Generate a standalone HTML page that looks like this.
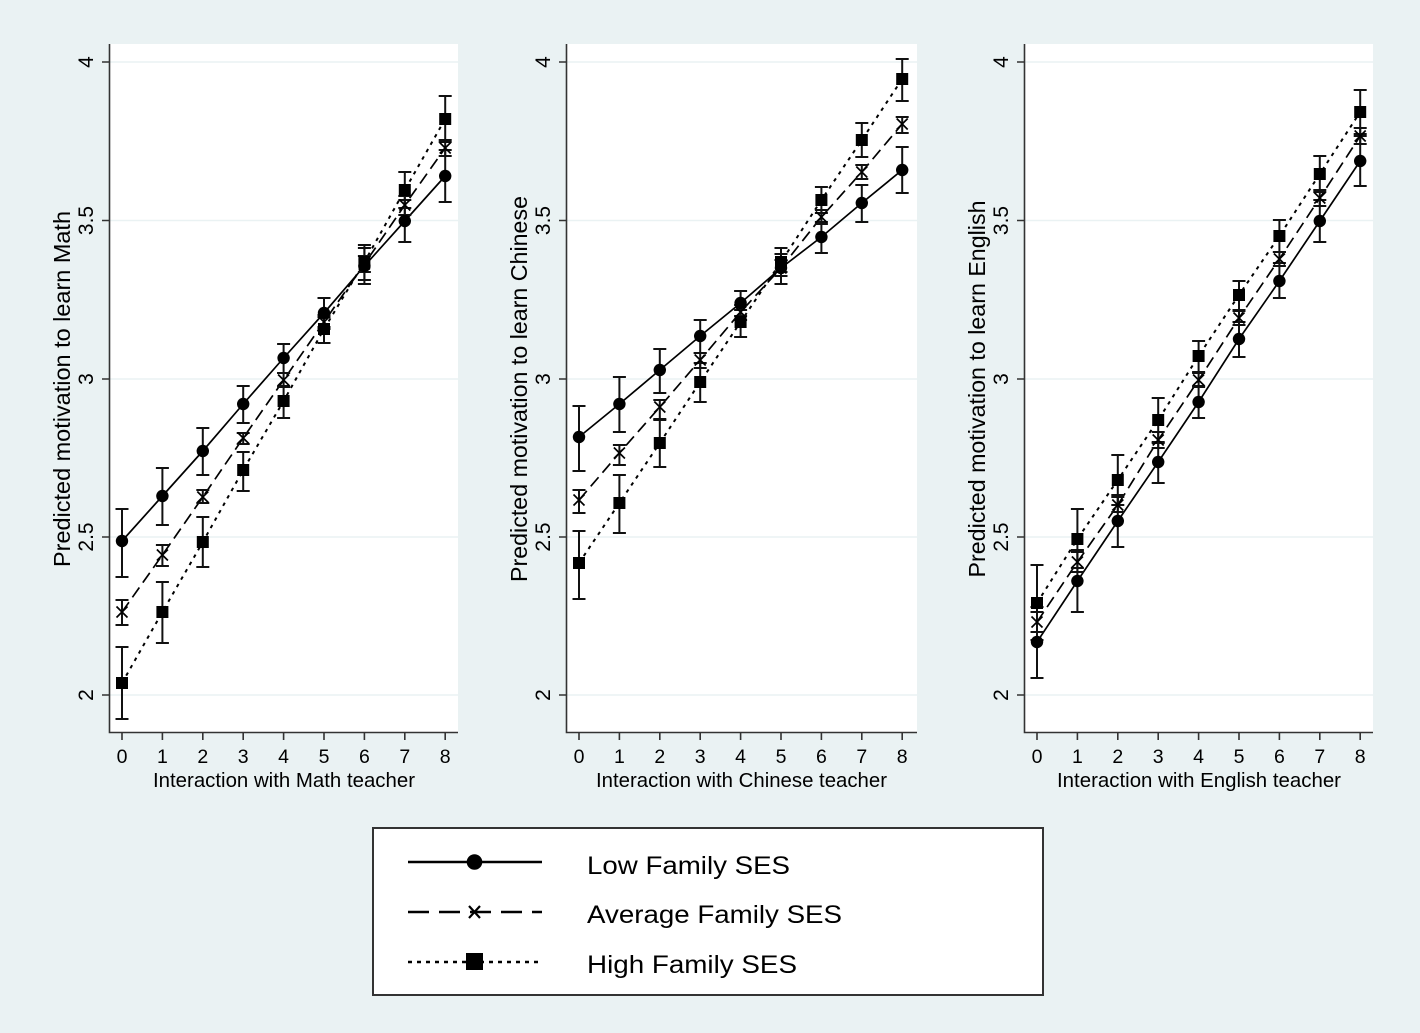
<!DOCTYPE html>
<html>
<head>
<meta charset="utf-8">
<style>
  html,body{margin:0;padding:0;background:#eaf2f3;}
  svg{display:block;}
  text{font-family:"Liberation Sans",Arial,Helvetica,sans-serif;fill:#000;}
</style>
</head>
<body>
<svg width="1420" height="1033" viewBox="0 0 1420 1033" xmlns="http://www.w3.org/2000/svg">
  <defs>
    <circle id="mc" cx="0" cy="0" r="6.2" fill="#000"/>
    <rect id="ms" x="-6" y="-6" width="12" height="12" fill="#000"/>
    <path id="mx" d="M-5.5,-5.5 L5.5,5.5 M-5.5,5.5 L5.5,-5.5" stroke="#000" stroke-width="1.7" fill="none"/>
  </defs>
  <rect x="0" y="0" width="1420" height="1033" fill="#eaf2f3"/>

  <!-- ================= PANEL 1 : MATH ================= -->
  <rect x="109" y="44" width="349" height="688" fill="#fff"/>
  <g stroke="#eaf2f3" stroke-width="1.6">
    <line x1="110" y1="62" x2="458" y2="62"/>
    <line x1="110" y1="220.5" x2="458" y2="220.5"/>
    <line x1="110" y1="379" x2="458" y2="379"/>
    <line x1="110" y1="537" x2="458" y2="537"/>
    <line x1="110" y1="695" x2="458" y2="695"/>
  </g>
  <g stroke="#333" stroke-width="1.6" fill="none">
    <path d="M109.5,44 V732.5 H458"/>
    <path d="M102,62 H109 M102,220.5 H109 M102,379 H109 M102,537 H109 M102,695 H109"/>
    <path d="M122,732 V740 M162.4,732 V740 M202.8,732 V740 M243.2,732 V740 M283.6,732 V740 M324,732 V740 M364.4,732 V740 M404.8,732 V740 M445.2,732 V740"/>
  </g>
  <g font-size="21" text-anchor="middle">
    <text transform="translate(93,62) rotate(-90)">4</text>
    <text transform="translate(93,220.5) rotate(-90)">3.5</text>
    <text transform="translate(93,379) rotate(-90)">3</text>
    <text transform="translate(93,537) rotate(-90)">2.5</text>
    <text transform="translate(93,695) rotate(-90)">2</text>
  </g>
  <g font-size="19.5" text-anchor="middle">
    <text x="122" y="763">0</text><text x="162.4" y="763">1</text><text x="202.8" y="763">2</text>
    <text x="243.2" y="763">3</text><text x="283.6" y="763">4</text><text x="324" y="763">5</text>
    <text x="364.4" y="763">6</text><text x="404.8" y="763">7</text><text x="445.2" y="763">8</text>
  </g>
  <text transform="translate(70,389) rotate(-90)" font-size="23" text-anchor="middle" textLength="356" lengthAdjust="spacingAndGlyphs">Predicted motivation to learn Math</text>
  <text x="284" y="787" font-size="20.5" text-anchor="middle" textLength="262" lengthAdjust="spacingAndGlyphs">Interaction with Math teacher</text>

  <g fill="none" stroke="#000" stroke-width="1.7">
    <polyline points="122,541 162.4,496 202.8,451 243.2,404 283.6,358 324,313 364.4,266 404.8,221 445.2,176"/>
    <polyline stroke-dasharray="12 6" points="122,612 162.4,555 202.8,497 243.2,438 283.6,380 324,322 364.4,264 404.8,205 445.2,148"/>
    <polyline stroke-dasharray="3.5 5" stroke-width="2" points="122,683 162.4,612 202.8,542 243.2,470 283.6,401 324,329 364.4,262 404.8,190 445.2,119"/>
  </g>
  <g fill="none" stroke="#111" stroke-width="2">
    <path d="M122,509V577M115.5,509H128.5M115.5,577H128.5 M162.4,468V525M155.9,468H168.9M155.9,525H168.9 M202.8,428V475M196.3,428H209.3M196.3,475H209.3 M243.2,386V423M236.7,386H249.7M236.7,423H249.7 M283.6,344V373M277.1,344H290.1M277.1,373H290.1 M324,298V327M317.5,298H330.5M317.5,327H330.5 M364.4,248V284M357.9,248H370.9M357.9,284H370.9 M404.8,200V242M398.3,200H411.3M398.3,242H411.3 M445.2,150V202M438.7,150H451.7M438.7,202H451.7"/>
    <path d="M122,600V625M115.5,600H128.5M115.5,625H128.5 M162.4,545V566M155.9,545H168.9M155.9,566H168.9 M202.8,490V503M196.3,490H209.3M196.3,503H209.3 M243.2,433V444M236.7,433H249.7M236.7,444H249.7 M283.6,373V387M277.1,373H290.1M277.1,387H290.1 M324,315V329M317.5,315H330.5M317.5,329H330.5 M364.4,256V272M357.9,256H370.9M357.9,272H370.9 M404.8,196V215M398.3,196H411.3M398.3,215H411.3 M445.2,140V156M438.7,140H451.7M438.7,156H451.7"/>
    <path d="M122,647V719M115.5,647H128.5M115.5,719H128.5 M162.4,582V643M155.9,582H168.9M155.9,643H168.9 M202.8,517V567M196.3,517H209.3M196.3,567H209.3 M243.2,452V491M236.7,452H249.7M236.7,491H249.7 M283.6,386V418M277.1,386H290.1M277.1,418H290.1 M324,317V343M317.5,317H330.5M317.5,343H330.5 M364.4,245V280M357.9,245H370.9M357.9,280H370.9 M404.8,172V208M398.3,172H411.3M398.3,208H411.3 M445.2,96V142M438.7,96H451.7M438.7,142H451.7"/>
  </g>
  <g>
    <use href="#mc" x="122" y="541"/><use href="#mc" x="162.4" y="496"/><use href="#mc" x="202.8" y="451"/><use href="#mc" x="243.2" y="404"/><use href="#mc" x="283.6" y="358"/><use href="#mc" x="324" y="313"/><use href="#mc" x="364.4" y="266"/><use href="#mc" x="404.8" y="221"/><use href="#mc" x="445.2" y="176"/>
    <use href="#mx" x="122" y="612"/><use href="#mx" x="162.4" y="555"/><use href="#mx" x="202.8" y="497"/><use href="#mx" x="243.2" y="438"/><use href="#mx" x="283.6" y="380"/><use href="#mx" x="324" y="322"/><use href="#mx" x="364.4" y="264"/><use href="#mx" x="404.8" y="205"/><use href="#mx" x="445.2" y="148"/>
    <use href="#ms" x="122" y="683"/><use href="#ms" x="162.4" y="612"/><use href="#ms" x="202.8" y="542"/><use href="#ms" x="243.2" y="470"/><use href="#ms" x="283.6" y="401"/><use href="#ms" x="324" y="329"/><use href="#ms" x="364.4" y="262"/><use href="#ms" x="404.8" y="190"/><use href="#ms" x="445.2" y="119"/>
  </g>

  <!-- ================= PANEL 2 : CHINESE ================= -->
  <rect x="566" y="44" width="351" height="688" fill="#fff"/>
  <g stroke="#eaf2f3" stroke-width="1.6">
    <line x1="567" y1="62" x2="917" y2="62"/>
    <line x1="567" y1="220.5" x2="917" y2="220.5"/>
    <line x1="567" y1="379" x2="917" y2="379"/>
    <line x1="567" y1="537" x2="917" y2="537"/>
    <line x1="567" y1="695" x2="917" y2="695"/>
  </g>
  <g stroke="#333" stroke-width="1.6" fill="none">
    <path d="M566.5,44 V732.5 H917"/>
    <path d="M559,62 H566 M559,220.5 H566 M559,379 H566 M559,537 H566 M559,695 H566"/>
    <path d="M579,732 V740 M619.4,732 V740 M659.8,732 V740 M700.2,732 V740 M740.6,732 V740 M781,732 V740 M821.4,732 V740 M861.8,732 V740 M902.2,732 V740"/>
  </g>
  <g font-size="21" text-anchor="middle">
    <text transform="translate(550,62) rotate(-90)">4</text>
    <text transform="translate(550,220.5) rotate(-90)">3.5</text>
    <text transform="translate(550,379) rotate(-90)">3</text>
    <text transform="translate(550,537) rotate(-90)">2.5</text>
    <text transform="translate(550,695) rotate(-90)">2</text>
  </g>
  <g font-size="19.5" text-anchor="middle">
    <text x="579" y="763">0</text><text x="619.4" y="763">1</text><text x="659.8" y="763">2</text>
    <text x="700.2" y="763">3</text><text x="740.6" y="763">4</text><text x="781" y="763">5</text>
    <text x="821.4" y="763">6</text><text x="861.8" y="763">7</text><text x="902.2" y="763">8</text>
  </g>
  <text transform="translate(527,389) rotate(-90)" font-size="23" text-anchor="middle" textLength="386" lengthAdjust="spacingAndGlyphs">Predicted motivation to learn Chinese</text>
  <text x="741.5" y="787" font-size="20.5" text-anchor="middle" textLength="291" lengthAdjust="spacingAndGlyphs">Interaction with Chinese teacher</text>

  <g fill="none" stroke="#000" stroke-width="1.7">
    <polyline points="579,437 619.4,404 659.8,370 700.2,336 740.6,303 781,268 821.4,237 861.8,203 902.2,170"/>
    <polyline stroke-dasharray="12 6" points="579,500 619.4,453 659.8,407 700.2,360 740.6,312 781,268 821.4,217 861.8,172 902.2,124"/>
    <polyline stroke-dasharray="3.5 5" stroke-width="2" points="579,563 619.4,503 659.8,443 700.2,382 740.6,322 781,262 821.4,200 861.8,140 902.2,79"/>
  </g>
  <g fill="none" stroke="#111" stroke-width="2">
    <path d="M579,406V471M572.5,406H585.5M572.5,471H585.5 M619.4,377V432M612.9,377H625.9M612.9,432H625.9 M659.8,349V393M653.3,349H666.3M653.3,393H666.3 M700.2,320V353M693.7,320H706.7M693.7,353H706.7 M740.6,291V316M734.1,291H747.1M734.1,316H747.1 M781,254V284M774.5,254H787.5M774.5,284H787.5 M821.4,222V253M814.9,222H827.9M814.9,253H827.9 M861.8,185V222M855.3,185H868.3M855.3,222H868.3 M902.2,147V193M895.7,147H908.7M895.7,193H908.7"/>
    <path d="M579,490V513M572.5,490H585.5M572.5,513H585.5 M619.4,445V465M612.9,445H625.9M612.9,465H625.9 M659.8,400V419M653.3,400H666.3M653.3,419H666.3 M700.2,353V368M693.7,353H706.7M693.7,368H706.7 M740.6,305V320M734.1,305H747.1M734.1,320H747.1 M781,260V276M774.5,260H787.5M774.5,276H787.5 M821.4,210V224M814.9,210H827.9M814.9,224H827.9 M861.8,165V179M855.3,165H868.3M855.3,179H868.3 M902.2,117V133M895.7,117H908.7M895.7,133H908.7"/>
    <path d="M579,531V599M572.5,531H585.5M572.5,599H585.5 M619.4,475V533M612.9,475H625.9M612.9,533H625.9 M659.8,420V467M653.3,420H666.3M653.3,467H666.3 M700.2,363V402M693.7,363H706.7M693.7,402H706.7 M740.6,310V337M734.1,310H747.1M734.1,337H747.1 M781,248V272M774.5,248H787.5M774.5,272H787.5 M821.4,187V213M814.9,187H827.9M814.9,213H827.9 M861.8,123V157M855.3,123H868.3M855.3,157H868.3 M902.2,59V101M895.7,59H908.7M895.7,101H908.7"/>
  </g>
  <g>
    <use href="#mc" x="579" y="437"/><use href="#mc" x="619.4" y="404"/><use href="#mc" x="659.8" y="370"/><use href="#mc" x="700.2" y="336"/><use href="#mc" x="740.6" y="303"/><use href="#mc" x="781" y="268"/><use href="#mc" x="821.4" y="237"/><use href="#mc" x="861.8" y="203"/><use href="#mc" x="902.2" y="170"/>
    <use href="#mx" x="579" y="500"/><use href="#mx" x="619.4" y="453"/><use href="#mx" x="659.8" y="407"/><use href="#mx" x="700.2" y="360"/><use href="#mx" x="740.6" y="312"/><use href="#mx" x="781" y="268"/><use href="#mx" x="821.4" y="217"/><use href="#mx" x="861.8" y="172"/><use href="#mx" x="902.2" y="124"/>
    <use href="#ms" x="579" y="563"/><use href="#ms" x="619.4" y="503"/><use href="#ms" x="659.8" y="443"/><use href="#ms" x="700.2" y="382"/><use href="#ms" x="740.6" y="322"/><use href="#ms" x="781" y="262"/><use href="#ms" x="821.4" y="200"/><use href="#ms" x="861.8" y="140"/><use href="#ms" x="902.2" y="79"/>
  </g>

  <!-- ================= PANEL 3 : ENGLISH ================= -->
  <rect x="1024" y="44" width="349" height="688" fill="#fff"/>
  <g stroke="#eaf2f3" stroke-width="1.6">
    <line x1="1025" y1="62" x2="1373" y2="62"/>
    <line x1="1025" y1="220.5" x2="1373" y2="220.5"/>
    <line x1="1025" y1="379" x2="1373" y2="379"/>
    <line x1="1025" y1="537" x2="1373" y2="537"/>
    <line x1="1025" y1="695" x2="1373" y2="695"/>
  </g>
  <g stroke="#333" stroke-width="1.6" fill="none">
    <path d="M1024.5,44 V732.5 H1373"/>
    <path d="M1017,62 H1024 M1017,220.5 H1024 M1017,379 H1024 M1017,537 H1024 M1017,695 H1024"/>
    <path d="M1037,732 V740 M1077.4,732 V740 M1117.8,732 V740 M1158.2,732 V740 M1198.6,732 V740 M1239,732 V740 M1279.4,732 V740 M1319.8,732 V740 M1360.2,732 V740"/>
  </g>
  <g font-size="21" text-anchor="middle">
    <text transform="translate(1008,62) rotate(-90)">4</text>
    <text transform="translate(1008,220.5) rotate(-90)">3.5</text>
    <text transform="translate(1008,379) rotate(-90)">3</text>
    <text transform="translate(1008,537) rotate(-90)">2.5</text>
    <text transform="translate(1008,695) rotate(-90)">2</text>
  </g>
  <g font-size="19.5" text-anchor="middle">
    <text x="1037" y="763">0</text><text x="1077.4" y="763">1</text><text x="1117.8" y="763">2</text>
    <text x="1158.2" y="763">3</text><text x="1198.6" y="763">4</text><text x="1239" y="763">5</text>
    <text x="1279.4" y="763">6</text><text x="1319.8" y="763">7</text><text x="1360.2" y="763">8</text>
  </g>
  <text transform="translate(985,389) rotate(-90)" font-size="23" text-anchor="middle" textLength="377" lengthAdjust="spacingAndGlyphs">Predicted motivation to learn English</text>
  <text x="1199" y="787" font-size="20.5" text-anchor="middle" textLength="284" lengthAdjust="spacingAndGlyphs">Interaction with English teacher</text>

  <g fill="none" stroke="#000" stroke-width="1.7">
    <polyline points="1037,642 1077.4,581 1117.8,521 1158.2,462 1198.6,402 1239,339 1279.4,281 1319.8,221 1360.2,161"/>
    <polyline stroke-dasharray="12 6" points="1037,622 1077.4,562 1117.8,505 1158.2,440 1198.6,380 1239,318 1279.4,259 1319.8,198 1360.2,136"/>
    <polyline stroke-dasharray="3.5 5" stroke-width="2" points="1037,603 1077.4,539 1117.8,480 1158.2,420 1198.6,356 1239,295 1279.4,236 1319.8,174 1360.2,112"/>
  </g>
  <g fill="none" stroke="#111" stroke-width="2">
    <path d="M1037,607V678M1030.5,607H1043.5M1030.5,678H1043.5 M1077.4,550V612M1070.9,550H1083.9M1070.9,612H1083.9 M1117.8,495V547M1111.3,495H1124.3M1111.3,547H1124.3 M1158.2,443V483M1151.7,443H1164.7M1151.7,483H1164.7 M1198.6,386V418M1192.1,386H1205.1M1192.1,418H1205.1 M1239,322V357M1232.5,322H1245.5M1232.5,357H1245.5 M1279.4,263V298M1272.9,263H1285.9M1272.9,298H1285.9 M1319.8,200V242M1313.3,200H1326.3M1313.3,242H1326.3 M1360.2,136V186M1353.7,136H1366.7M1353.7,186H1366.7"/>
    <path d="M1037,612V632M1030.5,612H1043.5M1030.5,632H1043.5 M1077.4,552V572M1070.9,552H1083.9M1070.9,572H1083.9 M1117.8,497V512M1111.3,497H1124.3M1111.3,512H1124.3 M1158.2,432V448M1151.7,432H1164.7M1151.7,448H1164.7 M1198.6,373V387M1192.1,373H1205.1M1192.1,387H1205.1 M1239,311V325M1232.5,311H1245.5M1232.5,325H1245.5 M1279.4,252V266M1272.9,252H1285.9M1272.9,266H1285.9 M1319.8,190V206M1313.3,190H1326.3M1313.3,206H1326.3 M1360.2,128V144M1353.7,128H1366.7M1353.7,144H1366.7"/>
    <path d="M1037,565V640M1030.5,565H1043.5M1030.5,640H1043.5 M1077.4,509V568M1070.9,509H1083.9M1070.9,568H1083.9 M1117.8,455V505M1111.3,455H1124.3M1111.3,505H1124.3 M1158.2,398V442M1151.7,398H1164.7M1151.7,442H1164.7 M1198.6,341V372M1192.1,341H1205.1M1192.1,372H1205.1 M1239,281V310M1232.5,281H1245.5M1232.5,310H1245.5 M1279.4,220V252M1272.9,220H1285.9M1272.9,252H1285.9 M1319.8,156V192M1313.3,156H1326.3M1313.3,192H1326.3 M1360.2,90V134M1353.7,90H1366.7M1353.7,134H1366.7"/>
  </g>
  <g>
    <use href="#mc" x="1037" y="642"/><use href="#mc" x="1077.4" y="581"/><use href="#mc" x="1117.8" y="521"/><use href="#mc" x="1158.2" y="462"/><use href="#mc" x="1198.6" y="402"/><use href="#mc" x="1239" y="339"/><use href="#mc" x="1279.4" y="281"/><use href="#mc" x="1319.8" y="221"/><use href="#mc" x="1360.2" y="161"/>
    <use href="#mx" x="1037" y="622"/><use href="#mx" x="1077.4" y="562"/><use href="#mx" x="1117.8" y="505"/><use href="#mx" x="1158.2" y="440"/><use href="#mx" x="1198.6" y="380"/><use href="#mx" x="1239" y="318"/><use href="#mx" x="1279.4" y="259"/><use href="#mx" x="1319.8" y="198"/><use href="#mx" x="1360.2" y="136"/>
    <use href="#ms" x="1037" y="603"/><use href="#ms" x="1077.4" y="539"/><use href="#ms" x="1117.8" y="480"/><use href="#ms" x="1158.2" y="420"/><use href="#ms" x="1198.6" y="356"/><use href="#ms" x="1239" y="295"/><use href="#ms" x="1279.4" y="236"/><use href="#ms" x="1319.8" y="174"/><use href="#ms" x="1360.2" y="112"/>
  </g>

  <!-- ================= LEGEND ================= -->
  <rect x="373" y="828" width="670" height="167" fill="#fff" stroke="#333" stroke-width="2"/>
  <g stroke="#000" fill="none" stroke-width="2.6">
    <line x1="408" y1="862" x2="542" y2="862"/>
    <line x1="408" y1="912" x2="542" y2="912" stroke-dasharray="21 10"/>
    <line x1="408" y1="962" x2="542" y2="962" stroke-dasharray="4 5"/>
    <path d="M469,906 L480,918 M469,918 L480,906" stroke-width="2.2"/>
  </g>
  <circle cx="474.5" cy="862" r="7.8" fill="#000"/>
  <rect x="466" y="953" width="17" height="17" fill="#000"/>
  <g font-size="25">
    <text x="587" y="874" textLength="203" lengthAdjust="spacingAndGlyphs">Low Family SES</text>
    <text x="587" y="923" textLength="255" lengthAdjust="spacingAndGlyphs">Average Family SES</text>
    <text x="587" y="973" textLength="210" lengthAdjust="spacingAndGlyphs">High Family SES</text>
  </g>
</svg>
</body>
</html>
